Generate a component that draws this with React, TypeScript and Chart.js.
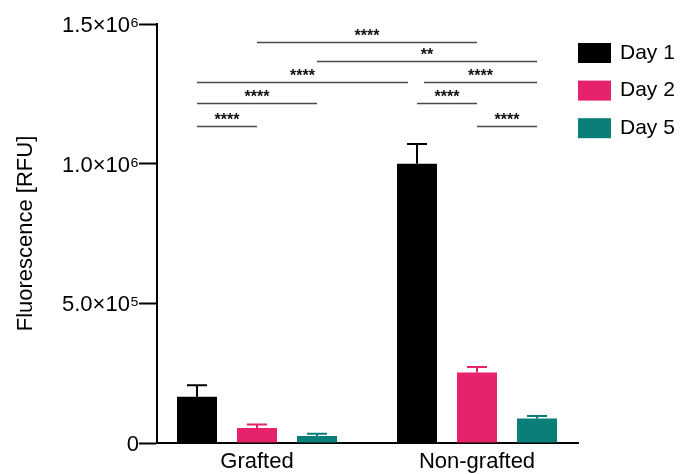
import React, { useEffect, useRef } from 'react';
import { Chart, registerables } from 'chart.js';

Chart.register(...registerables);

const groups = ['Grafted', 'Non-grafted'];
const seriesNames = ['Day 1', 'Day 2', 'Day 5'];
const seriesColors = ['#000000', '#e5226b', '#0a7f7a'];
const day1 = [166000, 1000000];
const day2 = [54000, 252000];
const day5 = [25000, 88000];
const day1Err = [41000, 70000];
const day2Err = [12000, 20000];
const day5Err = [8000, 9000];
const yTicks = [0, 500000, 1000000, 1500000];
const yTickLabels = ['0', '5.0×10⁵', '1.0×10⁶', '1.5×10⁶'];

// significance comparisons: [groupIndex, seriesIndex] pairs
const compA = [[0, 1], [0, 2], [0, 0], [1, 0], [0, 0], [1, 0], [0, 0], [1, 1]];
const compB = [[1, 1], [1, 2], [1, 0], [1, 2], [0, 2], [1, 1], [0, 1], [1, 2]];
const compLevel = [1437000, 1369000, 1294000, 1294000, 1217000, 1217000, 1136000, 1136000];
const compLabel = ['****', '**', '****', '****', '****', '****', '****', '****'];

const FONT = "'Liberation Sans', Arial, sans-serif";

const seriesValues = [day1, day2, day5];
const seriesErrors = [day1Err, day2Err, day5Err];

const errorBarPlugin = {
  id: 'errorBars',
  afterDatasetsDraw(chart: any) {
    const ctx = chart.ctx;
    const y = chart.scales.y;
    ctx.save();
    chart.data.datasets.forEach((ds: any, di: number) => {
      const meta = chart.getDatasetMeta(di);
      meta.data.forEach((el: any, i: number) => {
        const v = seriesValues[di][i];
        const e = seriesErrors[di][i];
        const top = y.getPixelForValue(v + e);
        ctx.strokeStyle = ds.backgroundColor;
        ctx.lineWidth = 2;
        ctx.beginPath();
        ctx.moveTo(el.x, el.y);
        ctx.lineTo(el.x, top);
        ctx.moveTo(el.x - 10, top);
        ctx.lineTo(el.x + 10, top);
        ctx.stroke();
      });
    });
    ctx.restore();
  },
};

const trims: Record<number, [number, number]> = { 2: [0, 9], 3: [7, 0] };

const bracketPlugin = {
  id: 'brackets',
  afterDatasetsDraw(chart: any) {
    const ctx = chart.ctx;
    const y = chart.scales.y;
    ctx.save();
    compA.forEach((a, k) => {
      const b = compB[k];
      const t = trims[k] || [0, 0];
      const x1 = chart.getDatasetMeta(a[1]).data[a[0]].x + t[0];
      const x2 = chart.getDatasetMeta(b[1]).data[b[0]].x - t[1];
      const py = Math.round(y.getPixelForValue(compLevel[k])) + 0.5;
      ctx.strokeStyle = '#4a4a4a';
      ctx.lineWidth = 1.4;
      ctx.beginPath();
      ctx.moveTo(x1, py);
      ctx.lineTo(x2, py);
      ctx.stroke();
      ctx.fillStyle = '#111';
      ctx.font = `bold 16px ${FONT}`;
      ctx.textAlign = 'center';
      ctx.textBaseline = 'alphabetic';
      ctx.fillText(compLabel[k], (x1 + x2) / 2, py - 1.5);
    });
    ctx.restore();
  },
};

const legendPlugin = {
  id: 'customLegend',
  afterDraw(chart: any) {
    const ctx = chart.ctx;
    ctx.save();
    chart.data.datasets.forEach((ds: any, i: number) => {
      const top = 43 + i * 37.6;
      ctx.fillStyle = ds.backgroundColor;
      ctx.fillRect(578, top, 33, 20);
      ctx.fillStyle = '#000';
      ctx.font = `21px ${FONT}`;
      ctx.textAlign = 'left';
      ctx.textBaseline = 'middle';
      ctx.fillText(ds.label, 620, top + 10);
    });
    ctx.restore();
  },
};

export default function App() {
  const ref = useRef<HTMLCanvasElement | null>(null);
  useEffect(() => {
    if (!ref.current) return;
    const chart = new Chart(ref.current, {
      type: 'bar',
      data: {
        datasets: seriesNames.map((name, si) => ({
          label: name,
          data: groups.map((_, gi) => ({ x: gi, y: seriesValues[si][gi] })),
          backgroundColor: seriesColors[si],
          borderWidth: 0,
          categoryPercentage: 0.8182,
          barPercentage: 0.6667,
        })),
      },
      options: {
        animation: false,
        responsive: false,
        events: [],
        layout: { padding: { top: 24, right: 104, left: 0, bottom: 0 } },
        plugins: { legend: { display: false }, tooltip: { enabled: false } },
        scales: {
          x: {
            type: 'linear',
            offset: false,
            min: -0.4545,
            max: 1.459,
            afterBuildTicks: (s: any) => {
              s.ticks = groups.map((_, i) => ({ value: i }));
            },
            afterFit: (s: any) => {
              s.height = 31;
            },
            grid: { display: false, drawTicks: false },
            border: { display: true, color: '#000', width: 2 },
            ticks: {
              callback: (v: any) => groups[v] ?? '',
              color: '#000',
              font: { size: 22, family: FONT },
              padding: 6,
              maxRotation: 0,
              autoSkip: false,
            },
          },
          y: {
            type: 'linear',
            min: 0,
            max: 1500000,
            afterBuildTicks: (s: any) => {
              s.ticks = yTicks.map((v) => ({ value: v }));
            },
            afterFit: (s: any) => {
              s.width = 157;
            },
            grid: {
              display: true,
              drawOnChartArea: false,
              drawTicks: true,
              tickLength: 18,
              tickWidth: 2,
              tickColor: '#000',
              color: '#000',
            },
            border: { display: true, color: '#000', width: 2 },
            ticks: {
              callback: (v: any) => {
                const idx = yTicks.indexOf(v);
                return idx >= 0 ? yTickLabels[idx] : '';
              },
              color: '#000',
              font: { size: 22, family: FONT },
              padding: 0,
              labelOffset: 2,
            },
            title: {
              display: true,
              text: 'Fluorescence [RFU]',
              color: '#000',
              font: { size: 22, family: FONT },
              padding: { top: 13, bottom: 0 },
            },
          },
        },
      } as any,
      plugins: [errorBarPlugin, bracketPlugin, legendPlugin],
    });
    return () => chart.destroy();
  }, []);
  return (
    <div style={{ position: 'fixed', left: 0, top: 0, width: 682, height: 474, background: '#fff' }}>
      <canvas ref={ref} width={682} height={474} style={{ display: 'block' }} />
    </div>
  );
}
